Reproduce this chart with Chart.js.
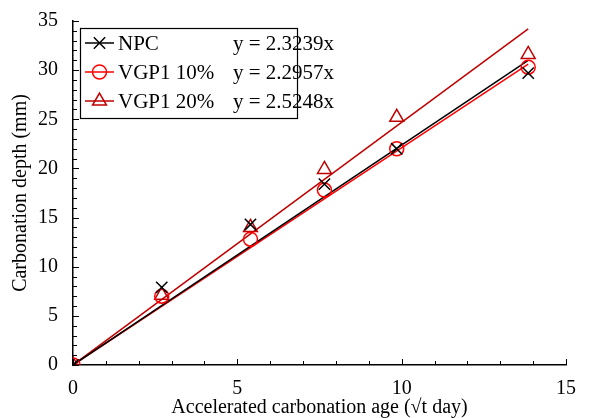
<!DOCTYPE html>
<html><head><meta charset="utf-8">
<script src="https://cdn.jsdelivr.net/npm/chart.js@4"></script>
<style>html,body{margin:0;padding:0;background:#fff}#wrap{width:596px;height:418px}</style>
</head><body><div id="wrap"><canvas id="c" width="596" height="418"></canvas></div>
<script>
const seriesNames = ['NPC', 'VGP1 10%', 'VGP1 20%'];
const equations = ['y = 2.3239x', 'y = 2.2957x', 'y = 2.5248x'];
const ageX = [0, 2.7, 5.4, 7.65, 9.85, 13.85];
const npcDepth = [0, 7.9, 14.3, 18.4, 22.0, 29.7];
const vgp10Depth = [0, 7.0, 12.8, 17.8, 22.0, 30.3];
const vgp20Depth = [0, 7.1, 14.0, 19.9, 25.2, 31.6];
const trendX = [0, 13.85];
const npcTrend = [0, 31.0];
const vgp10Trend = [0, 30.6];
const vgp20Trend = [0, 34.2];
const xTicks = [0, 5, 10, 15];
const yTicks = [0, 5, 10, 15, 20, 25, 30, 35];

const colors = ['#000000', '#FF0000', '#C00000'];
const styles = ['crossRot', 'circle', 'triangle'];
const radii = [8, 7, 8];
const FONT = "'Liberation Serif', 'Times New Roman', serif";

function pts(xs, ys) { return xs.map((x, i) => ({x: x, y: ys[i]})); }

const trendSets = [npcTrend, vgp10Trend, vgp20Trend].map((t, i) => ({
  label: seriesNames[i] + ' trend', data: pts(trendX, t), showLine: true,
  borderColor: colors[i], borderWidth: 1.5, pointRadius: 0, fill: false, order: 2
}));
const pointSets = [npcDepth, vgp10Depth, vgp20Depth].map((d, i) => ({
  label: seriesNames[i], data: pts(ageX, d), showLine: false,
  pointStyle: styles[i], pointRadius: radii[i], pointBorderColor: colors[i],
  pointBackgroundColor: 'rgba(0,0,0,0)', pointBorderWidth: 1.5, order: 1
}));

const extras = {
  id: 'extras',
  afterDraw(chart) {
    const ctx = chart.ctx, xs = chart.scales.x, ys = chart.scales.y;
    ctx.save();
    ctx.strokeStyle = '#000'; ctx.lineWidth = 1;
    for (let v = 0; v <= 35; v++) {
      const py = Math.round(ys.getPixelForValue(v)) + 0.5;
      const len = v % 5 === 0 ? 6 : 4;
      ctx.beginPath(); ctx.moveTo(xs.left, py); ctx.lineTo(xs.left + len, py); ctx.stroke();
    }
    for (let v = 0; v <= 15; v++) {
      const px = Math.round(xs.getPixelForValue(v)) + 0.5;
      const len = v % 5 === 0 ? 6 : 4;
      ctx.beginPath(); ctx.moveTo(px, ys.bottom); ctx.lineTo(px, ys.bottom - len); ctx.stroke();
    }
    // legend
    const bx = 80.5, by = 28.5, bw = 217, bh = 90;
    ctx.fillStyle = '#fff'; ctx.fillRect(bx, by, bw, bh);
    ctx.strokeStyle = '#000'; ctx.lineWidth = 1.2; ctx.strokeRect(bx, by, bw, bh);
    ctx.font = '21px ' + FONT; ctx.textBaseline = 'middle'; ctx.textAlign = 'left';
    const rows = [43, 72, 101];
    rows.forEach((ry, i) => {
      ctx.strokeStyle = colors[i]; ctx.lineWidth = 1.5;
      ctx.beginPath(); ctx.moveTo(85, ry); ctx.lineTo(114, ry); ctx.stroke();
      ctx.fillStyle = 'rgba(0,0,0,0)';
      ctx.strokeStyle = colors[i];
      Chart.helpers.drawPoint(ctx, {pointStyle: styles[i], radius: radii[i], borderWidth: 1.5}, 99.5, ry);
      ctx.fillStyle = '#000';
      ctx.fillText(seriesNames[i], 118, ry + 1);
      ctx.fillText(equations[i], 233, ry + 1);
    });
    ctx.restore();
  }
};

Chart.defaults.font.family = FONT;
Chart.defaults.color = '#000';
new Chart(document.getElementById('c'), {
  type: 'scatter',
  data: { datasets: [...trendSets, ...pointSets] },
  options: {
    responsive: false, animation: false,
    layout: { padding: { left: 0, right: 30, top: 21, bottom: 0 } },
    plugins: { legend: { display: false }, tooltip: { enabled: false } },
    scales: {
      x: {
        type: 'linear', min: 0, max: 15,
        afterBuildTicks: s => { s.ticks = xTicks.map(v => ({value: v})); },
        grid: { display: false, drawTicks: false },
        border: { display: true, color: '#000', width: 1.5 },
        ticks: { font: { size: 20 }, padding: 12, color: '#000', maxRotation: 0 },
        title: { display: true, text: 'Accelerated carbonation age (√t day)', font: { size: 20 }, color: '#000', padding: { top: -17, bottom: -2 } }
      },
      y: {
        type: 'linear', min: 0, max: 35,
        afterBuildTicks: s => { s.ticks = yTicks.map(v => ({value: v})); },
        afterFit: s => { s.paddingTop = 0; },
        grid: { display: false, drawTicks: false },
        border: { display: true, color: '#000', width: 1.5 },
        ticks: { font: { size: 20 }, padding: 15, color: '#000' },
        title: { display: true, text: 'Carbonation depth (mm)', font: { size: 20 }, color: '#000', padding: { top: 9, bottom: -10 } }
      }
    }
  },
  plugins: [extras]
});
</script></body></html>
